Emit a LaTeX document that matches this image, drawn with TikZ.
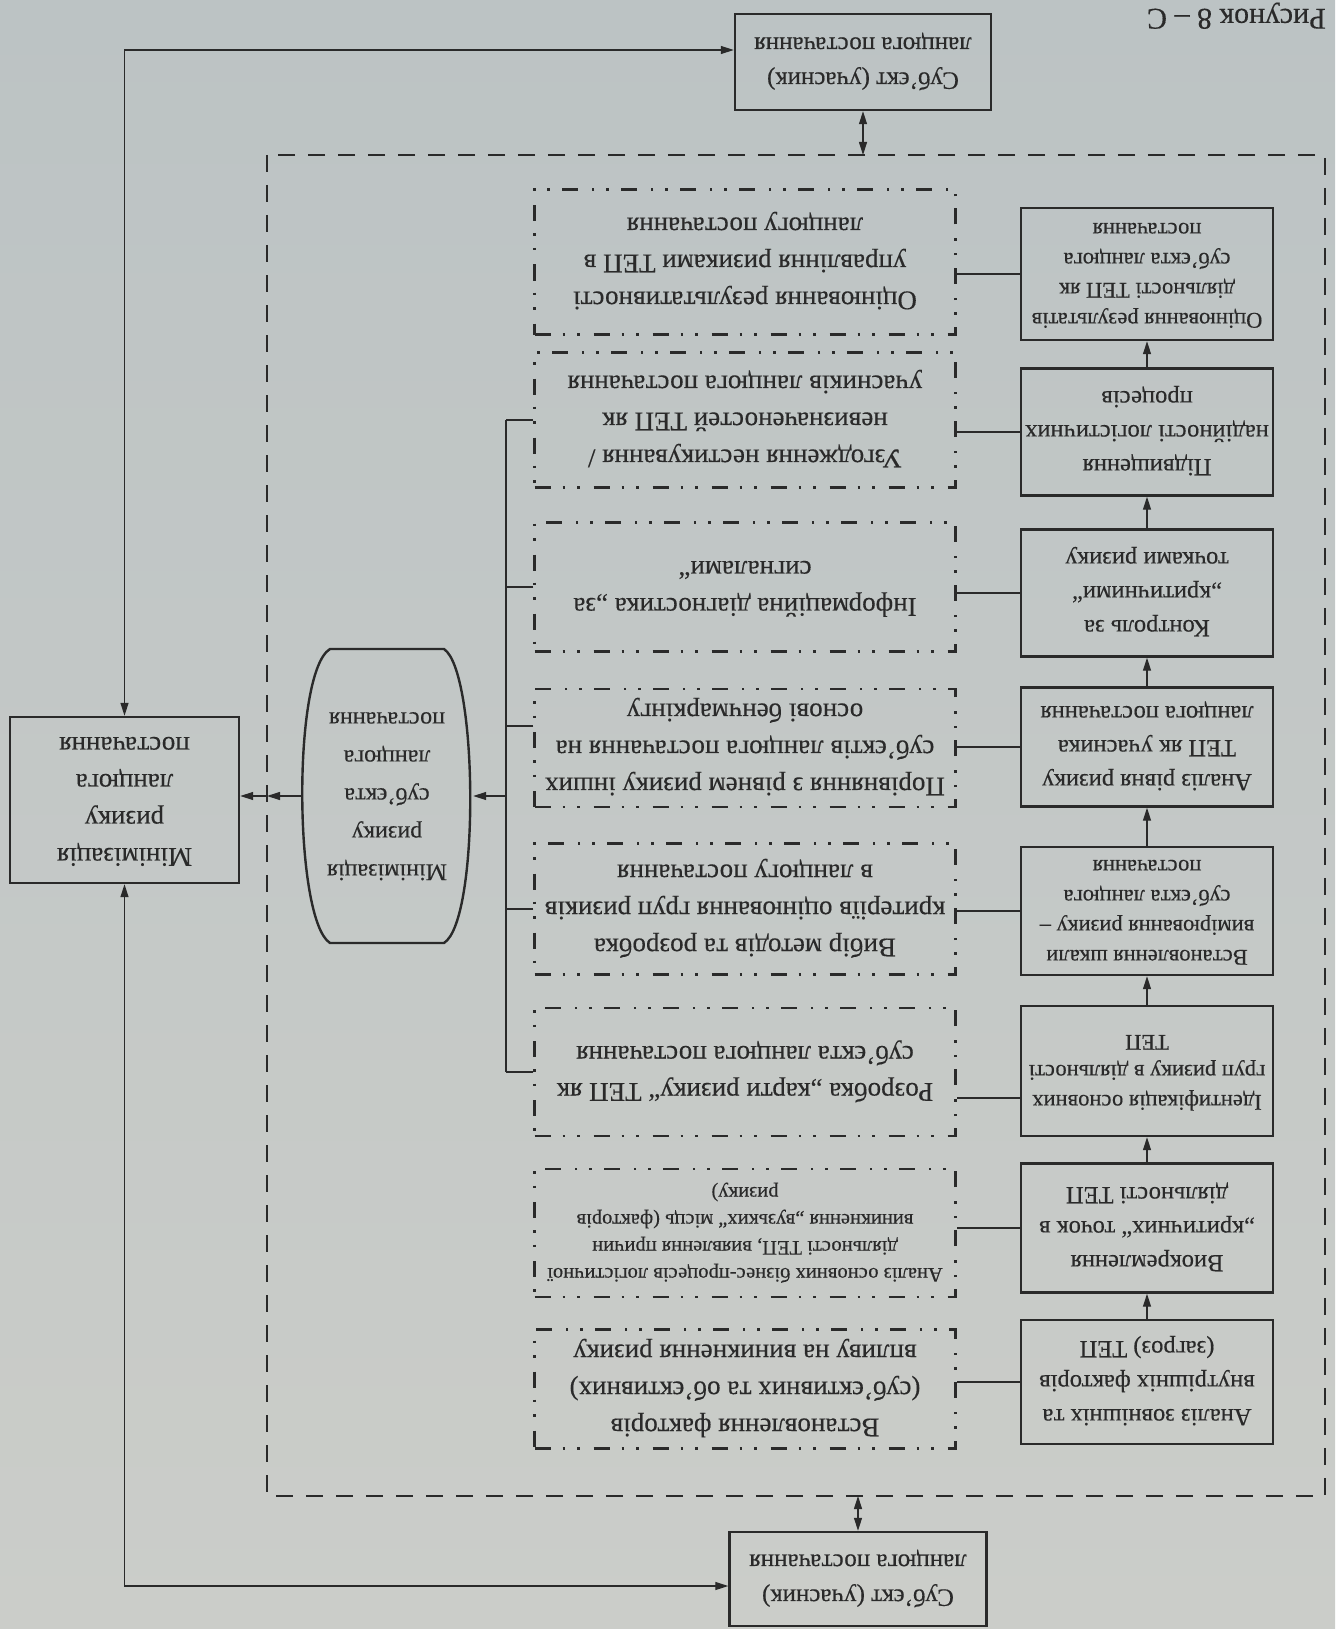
\documentclass[tikz,border=0pt]{standalone}
\usepackage{fontspec}
\setmainfont{Liberation Serif}[FakeBold=0.35]
\usetikzlibrary{arrows.meta}
\definecolor{paper}{HTML}{C5CAC8}
\definecolor{papertop}{HTML}{BCC3C4}
\definecolor{paperbot}{HTML}{CBCDC9}
\definecolor{ink}{HTML}{2A2A2A}
\newcommand{\ud}[1]{\rotatebox[origin=c]{180}{\begin{tabular}{@{}c@{}}#1\end{tabular}}}
\begin{document}
\begin{tikzpicture}[x=1pt,y=-1pt,
  every node/.style={text=ink, inner sep=2pt},
  solidbox/.style={draw=ink, line width=2.4pt, minimum width=252pt},
  dotbox/.style={draw=ink, line width=2.3pt, dash pattern=on 16pt off 12pt on 2.5pt off 12pt on 2.5pt off 14pt, minimum width=421pt},
  outerdash/.style={draw=ink, line width=2.3pt, dash pattern=on 17pt off 13pt},
  conn/.style={draw=ink, line width=1.2pt},
  tip/.style={-{Triangle[length=13pt,width=8pt]}},
  tips/.style={{Triangle[length=13pt,width=8pt]}-{Triangle[length=13pt,width=8pt]}},
  fmid/.style={font=\fontsize{27}{37}\selectfont},
  fsub/.style={font=\fontsize{25}{35}\selectfont},
  fright/.style={font=\fontsize{24.5}{34}\selectfont},
  fsm/.style={font=\fontsize{22.5}{30}\selectfont},
  ftiny/.style={font=\fontsize{20.5}{27}\selectfont},
  fleft/.style={font=\fontsize{27}{37}\selectfont},
  foval/.style={font=\fontsize{24}{38}\selectfont}
]
\useasboundingbox (0,0) rectangle (1335,1629);
\shade[top color=papertop, bottom color=paperbot] (0,0) rectangle (1335,1629);
\clip (0,0) rectangle (1335,1629);

% caption fragment at the page edge
\node[rotate=180, anchor=base west, inner sep=0pt, font=\fontsize{30}{34}\selectfont] (cap) at (1326,9) {Рисунок 8 – С};

% outer dashed frame
\coordinate (frameNW) at (267,155);
\coordinate (frameSE) at (1325,1496);
\draw[outerdash] (frameNW) rectangle (frameSE);

% top / bottom subject boxes
\node[solidbox, minimum width=256pt, minimum height=96pt, fsub] (T) at (863,62) {\ud{Суб’єкт (учасник)\\ланцюга постачання}};
\node[solidbox, minimum width=257pt, minimum height=94pt, fsub] (B) at (858,1579) {\ud{Суб’єкт (учасник)\\ланцюга постачання}};

% left box
\node[solidbox, minimum width=229pt, minimum height=166pt, fleft] (L) at (124.5,800) {\ud{Мінімізація\\ризику\\ланцюга\\постачання}};

% oval
\node[minimum width=172pt, minimum height=294pt, foval] (ov) at (387,796) {\ud{Мінімізація\\ризику\\суб’єкта\\ланцюга\\постачання}};
\draw[draw=ink, line width=2.4pt] (330,649) -- (444,649) .. controls (478,672) and (480,920) .. (444,943) -- (330,943) .. controls (294,920) and (292,672) .. (330,649) -- cycle;

% right column
\node[solidbox, minimum height=132pt, fsm] (r1) at (1147,274) {\ud{Оцінювання результатів\\діяльності ТЕП як\\суб’єкта ланцюга\\постачання}};
\node[solidbox, minimum height=127pt, fright] (r2) at (1147,432) {\ud{Підвищення\\надійності логістичних\\процесів}};
\node[solidbox, minimum height=127pt, fright] (r3) at (1147,593) {\ud{Контроль за\\„критичними“\\точками ризику}};
\node[solidbox, minimum height=119pt, fright] (r4) at (1147,747) {\ud{Аналіз рівня ризику\\ТЕП як учасника\\ланцюга постачання}};
\node[solidbox, minimum height=128pt, fsm] (r5) at (1147,911) {\ud{Встановлення шкали\\вимірювання ризику –\\суб’єкта ланцюга\\постачання}};
\node[solidbox, minimum height=130pt, fsm] (r6) at (1147,1071) {\ud{Ідентифікація основних\\груп ризику в діяльності\\ТЕП}};
\node[solidbox, minimum height=129pt, fright] (r7) at (1147,1228) {\ud{Виокремлення\\„критичних“ точок в\\діяльності ТЕП}};
\node[solidbox, minimum height=124pt, fright] (r8) at (1147,1382) {\ud{Аналіз зовнішніх та\\внутрішніх факторів\\(загроз) ТЕП}};

% middle column
\node[dotbox, minimum height=145pt, fmid] (m1) at (745,262) {\ud{Оцінювання результативності\\управління ризиками ТЕП в\\ланцюгу постачання}};
\node[dotbox, minimum height=135pt, fmid] (m2) at (745,420) {\ud{Узгодження нестикування /\\невизначеностей ТЕП як\\учасників ланцюга постачання}};
\node[dotbox, minimum height=129pt, fmid] (m3) at (745,587) {\ud{Інформаційна діагностика „за\\сигналами“}};
\node[dotbox, minimum height=118pt, fmid] (m4) at (745,748) {\ud{Порівняння з рівнем ризику інших\\суб’єктів ланцюга постачання на\\основі бенчмаркінгу}};
\node[dotbox, minimum height=131pt, fmid] (m5) at (745,909) {\ud{Вибір методів та розробка\\критеріїв оцінювання груп ризиків\\в ланцюгу постачання}};
\node[dotbox, minimum height=128pt, fmid] (m6) at (745,1072) {\ud{Розробка „карти ризику“ ТЕП як\\суб’єкта ланцюга постачання}};
\node[dotbox, minimum height=128pt, ftiny] (m7) at (745,1233) {\ud{Аналіз основних бізнес-процесів логістичної\\діяльності ТЕП, виявлення причин\\виникнення „вузьких“ місць (факторів\\ризику)}};
\node[dotbox, minimum height=119pt, fmid] (m8) at (745,1389) {\ud{Встановлення факторів\\(суб’єктивних та об’єктивних)\\впливу на виникнення ризику}};

% arrows in right column
\foreach \a/\b in {r2/r1,r3/r2,r4/r3,r5/r4,r6/r5,r7/r6,r8/r7}
  \draw[conn,tip] (\a.north) -- (\b.south);

% right -> middle links
\foreach \i in {1,2,3,4,5,7,8}
  \draw[conn] (r\i.west) -- (r\i.west -| m\i.east);
\draw[conn] ([yshift=-27pt]r6.west) -- ([yshift=-27pt]r6.west -| m6.east);

% bus
\coordinate (busT) at (506,420);
\coordinate (busB) at (506,1072);
\draw[conn] (busT) -- (busB);
\foreach \i in {2,3,5,6}
  \draw[conn] (m\i.west) -- (m\i.west -| busT);
\draw[conn] ([yshift=22pt]m4.west) -- ([yshift=22pt]m4.west -| busT);
\draw[conn,tip] (ov.east -| busT) -- (ov.east);

% oval -> left box
\draw[conn,tip] (ov.west) -- (ov.west -| frameNW);
\draw[conn,tip] (ov.west -| frameNW) -- (ov.west -| L.east);

% subject boxes <-> frame
\draw[conn,tips] (T.south) -- (T.south |- frameNW);
\draw[conn,tips] (B.north) -- (B.north |- frameSE);

% subject boxes <-> left box
\draw[conn,tips] ([yshift=12pt]T.west) -| (L.north);
\draw[conn,tips] ([yshift=-7pt]B.west) -| (L.south);
\end{tikzpicture}
\end{document}
